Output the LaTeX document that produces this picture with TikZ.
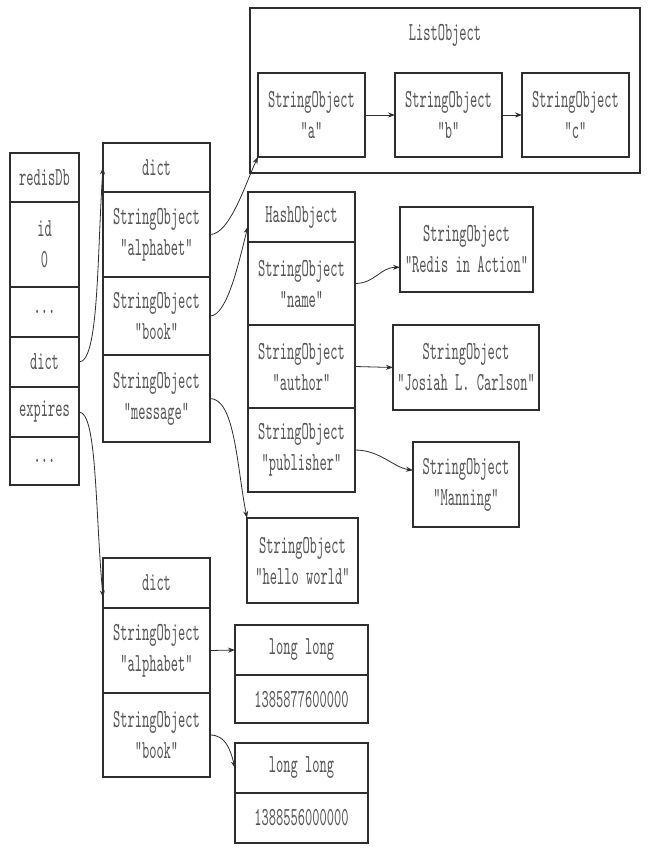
\documentclass[tikz,border=0pt]{standalone}
\usepackage{fontspec}
\setmonofont[Extension=.otf, FakeStretch=0.53]{lmmono10-regular}
\usetikzlibrary{positioning,arrows.meta}
\definecolor{boxgray}{HTML}{2E2E2E}
\definecolor{textgray}{HTML}{555555}
\begin{document}
\begin{tikzpicture}[x=1pt, y=-1pt,
  cell/.style = {draw=boxgray, line width=2.6pt, outer sep=0pt, inner sep=0pt, align=center,
    text=textgray, font=\fontsize{26pt}{31pt}\selectfont\ttfamily},
  rcol/.style = {cell, minimum width=69pt},
  dcol/.style = {cell, minimum width=107pt},
  hcol/.style = {cell, minimum width=107pt},
  lcol/.style = {cell, minimum width=133pt, minimum height=50pt},
  arr/.style = {draw=boxgray, line width=0.8pt, -{Stealth[length=7pt, width=5pt]}}]
  \useasboundingbox[fill=white] (0,0) rectangle (647,850);
  % redisDb
  \node[rcol, minimum height=49pt, anchor=north west] (r1) at (10,153) {redisDb};
  \node[rcol, minimum height=85pt, below=0pt of r1] (r2) {id\\0};
  \node[rcol, minimum height=50pt, below=0pt of r2] (r3) {...};
  \node[rcol, minimum height=50pt, below=0pt of r3] (r4) {dict};
  \node[rcol, minimum height=50pt, below=0pt of r4] (r5) {expires};
  \node[rcol, minimum height=48pt, below=0pt of r5] (r6) {...};
  % dict
  \node[dcol, minimum height=49pt, anchor=north west] (d1) at (103,143) {dict};
  \node[dcol, minimum height=85pt, below=0pt of d1] (d2) {StringObject\\"alphabet"};
  \node[dcol, minimum height=78pt, below=0pt of d2] (d3) {StringObject\\"book"};
  \node[dcol, minimum height=87pt, below=0pt of d3] (d4) {StringObject\\"message"};
  % list
  \node[cell, minimum width=390pt, minimum height=165pt, anchor=north west] (lo) at (250,8) {};
  \node[cell, draw=none] (lot) at (445,35) {ListObject};
  \node[hcol, minimum height=84pt, anchor=north west] (la) at (258,73) {StringObject\\"a"};
  \node[hcol, minimum height=84pt, anchor=north west] (lb) at (395,73) {StringObject\\"b"};
  \node[hcol, minimum height=84pt, anchor=north west] (lc) at (522,73) {StringObject\\"c"};
  % hash
  \node[hcol, minimum height=50pt, anchor=north west] (h1) at (248,192) {HashObject};
  \node[hcol, minimum height=83pt, below=0pt of h1] (h2) {StringObject\\"name"};
  \node[hcol, minimum height=83pt, below=0pt of h2] (h3) {StringObject\\"author"};
  \node[hcol, minimum height=84pt, below=0pt of h3] (h4) {StringObject\\"publisher"};
  \node[cell, minimum width=133pt, minimum height=85pt, anchor=north west] (v1) at (400,207) {StringObject\\"Redis in Action"};
  \node[cell, minimum width=146pt, minimum height=85pt, anchor=north west] (v2) at (393,325) {StringObject\\"Josiah L. Carlson"};
  \node[cell, minimum width=106pt, minimum height=85pt, anchor=north west] (v3) at (413,442) {StringObject\\"Manning"};
  \node[cell, minimum width=111pt, minimum height=85pt, anchor=north west] (hw) at (247,518) {StringObject\\"hello world"};
  % expires
  \node[dcol, minimum height=50pt, anchor=north west] (e1) at (103,558) {dict};
  \node[dcol, minimum height=85pt, below=0pt of e1] (e2) {StringObject\\"alphabet"};
  \node[dcol, minimum height=84pt, below=0pt of e2] (e3) {StringObject\\"book"};
  \node[lcol, anchor=north west] (t1) at (235,625) {long long};
  \node[lcol, minimum height=48pt, below=0pt of t1] (t2) {1385877600000};
  \node[lcol, anchor=north west] (t3) at (235,743) {long long};
  \node[lcol, below=0pt of t3] (t4) {1388556000000};
  % pointers
  \draw[arr] (r4.east) .. controls +(20,0) and +(-6,90) .. (d1.west);
  \draw[arr] (r5.east) .. controls +(18,0) and +(-8,-90) .. (e1.195);
  \draw[arr] (d2.east) .. controls +(20,0) and +(-12,25) .. (la.south west);
  \draw[arr] (d3.east) .. controls +(18,0) and +(-8,30) .. (h1.190);
  \draw[arr] (d4.east) .. controls +(25,0) and +(-10,-50) .. (hw.north west);
  \draw[arr] (la.east) -- (lb.west);
  \draw[arr] (lb.east) -- (lc.west);
  \draw[arr] (h2.east) .. controls +(20,0) and +(-20,0) .. (v1.195);
  \draw[arr] (h3.east) -- (v2.west);
  \draw[arr] (h4.east) .. controls +(25,0) and +(-20,-3) .. (v3.165);
  \draw[arr] (e2.east) -- (t1.west);
  \draw[arr] (e3.east) .. controls +(15,0) and +(-5,-20) .. (t3.west);
\end{tikzpicture}
\end{document}
